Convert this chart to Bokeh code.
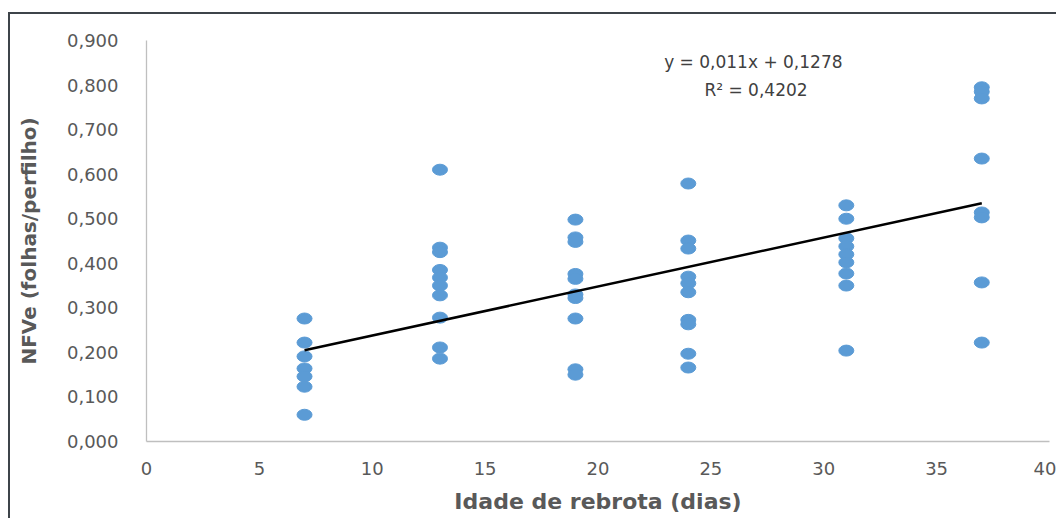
from bokeh.plotting import figure
from bokeh.models import Label, FixedTicker, ColumnDataSource
from bokeh.embed import file_html
from bokeh.resources import INLINE

# ---- data ----
x_days = [7, 13, 19, 24, 31, 37]
nfve_d7 = [0.276, 0.222, 0.191, 0.164, 0.146, 0.123, 0.060]
nfve_d13 = [0.610, 0.435, 0.425, 0.385, 0.368, 0.350, 0.328, 0.278, 0.211, 0.186]
nfve_d19 = [0.498, 0.458, 0.448, 0.376, 0.365, 0.330, 0.322, 0.276, 0.162, 0.150]
nfve_d24 = [0.579, 0.451, 0.433, 0.370, 0.355, 0.335, 0.273, 0.263, 0.197, 0.166]
nfve_d31 = [0.530, 0.500, 0.456, 0.438, 0.420, 0.402, 0.377, 0.350, 0.204]
nfve_d37 = [0.795, 0.785, 0.770, 0.635, 0.514, 0.503, 0.357, 0.222]
groups = [nfve_d7, nfve_d13, nfve_d19, nfve_d24, nfve_d31, nfve_d37]

slope = 0.011
intercept = 0.1278
equation_text = "y = 0,011x  + 0,1278"
r2_text = "R² = 0,4202"

x_ticks = [0, 5, 10, 15, 20, 25, 30, 35, 40]
x_tick_labels = ["0", "5", "10", "15", "20", "25", "30", "35", "40"]
y_ticks = [0.0, 0.1, 0.2, 0.3, 0.4, 0.5, 0.6, 0.7, 0.8, 0.9]
y_tick_labels = ["0,000", "0,100", "0,200", "0,300", "0,400", "0,500",
                 "0,600", "0,700", "0,800", "0,900"]

x_title = "Idade de rebrota (dias)"
y_title = "NFVe (folhas/perfilho)"

# ---- build ----
xs, ys = [], []
for d, vals in zip(x_days, groups):
    xs += [d] * len(vals)
    ys += vals
src = ColumnDataSource(dict(x=xs, y=ys))

fit_x = [min(x_days), max(x_days)]
fit_y = [slope * v + intercept for v in fit_x]

p = figure(width=1048, height=506, output_backend="svg", toolbar_location=None,
           x_range=(0, 40), y_range=(0, 0.9),
           min_border_left=136, min_border_right=9, min_border_top=26, min_border_bottom=79)
p.styles = {"margin-top": "12px", "margin-left": "8px",
            "border-top": "2px solid #3e444a", "border-left": "2px solid #3e444a"}
p.background_fill_color = "white"
p.border_fill_color = "white"
p.outline_line_color = None
p.grid.visible = False

p.ellipse(x="x", y="y", width=15, height=11, width_units="screen", height_units="screen",
          source=src, fill_color="#5b9bd5", line_color="#5b9bd5")
p.line(fit_x, fit_y, line_color="black", line_width=2.5)

FONT = "DejaVu Sans"
for ax in (p.xaxis[0], p.yaxis[0]):
    ax.axis_line_color = "#bfbfbf"
    ax.axis_line_width = 1.3
    ax.major_tick_line_color = None
    ax.minor_tick_line_color = None
    ax.major_tick_out = 0
    ax.major_tick_in = 0
    ax.major_label_text_font = FONT
    ax.major_label_text_font_size = "18px"
    ax.major_label_text_color = "#595959"
    ax.axis_label_text_font = FONT
    ax.axis_label_text_font_style = "bold"
    ax.axis_label_text_color = "#595959"

p.xaxis[0].ticker = FixedTicker(ticks=x_ticks)
p.xaxis[0].major_label_overrides = {t: l for t, l in zip(x_ticks, x_tick_labels)}
p.yaxis[0].ticker = FixedTicker(ticks=y_ticks)
p.yaxis[0].major_label_overrides = {t: l for t, l in zip(y_ticks, y_tick_labels)}

p.xaxis[0].major_label_standoff = 20
p.yaxis[0].major_label_standoff = 28
p.xaxis[0].axis_label = x_title
p.yaxis[0].axis_label = y_title
p.xaxis[0].axis_label_text_font_size = "22px"
p.yaxis[0].axis_label_text_font_size = "20px"
p.xaxis[0].axis_label_standoff = 11
p.yaxis[0].axis_label_standoff = 23

p.add_layout(Label(x=27.0, y=0.851, text=equation_text, text_align="center",
                   text_baseline="middle", text_font=FONT, text_font_size="17px",
                   text_color="#404040"))
p.add_layout(Label(x=27.0, y=0.788, text=r2_text, text_align="center",
                   text_baseline="middle", text_font=FONT, text_font_size="17px",
                   text_color="#404040"))

open("out.html", "w").write(file_html(p, INLINE))
